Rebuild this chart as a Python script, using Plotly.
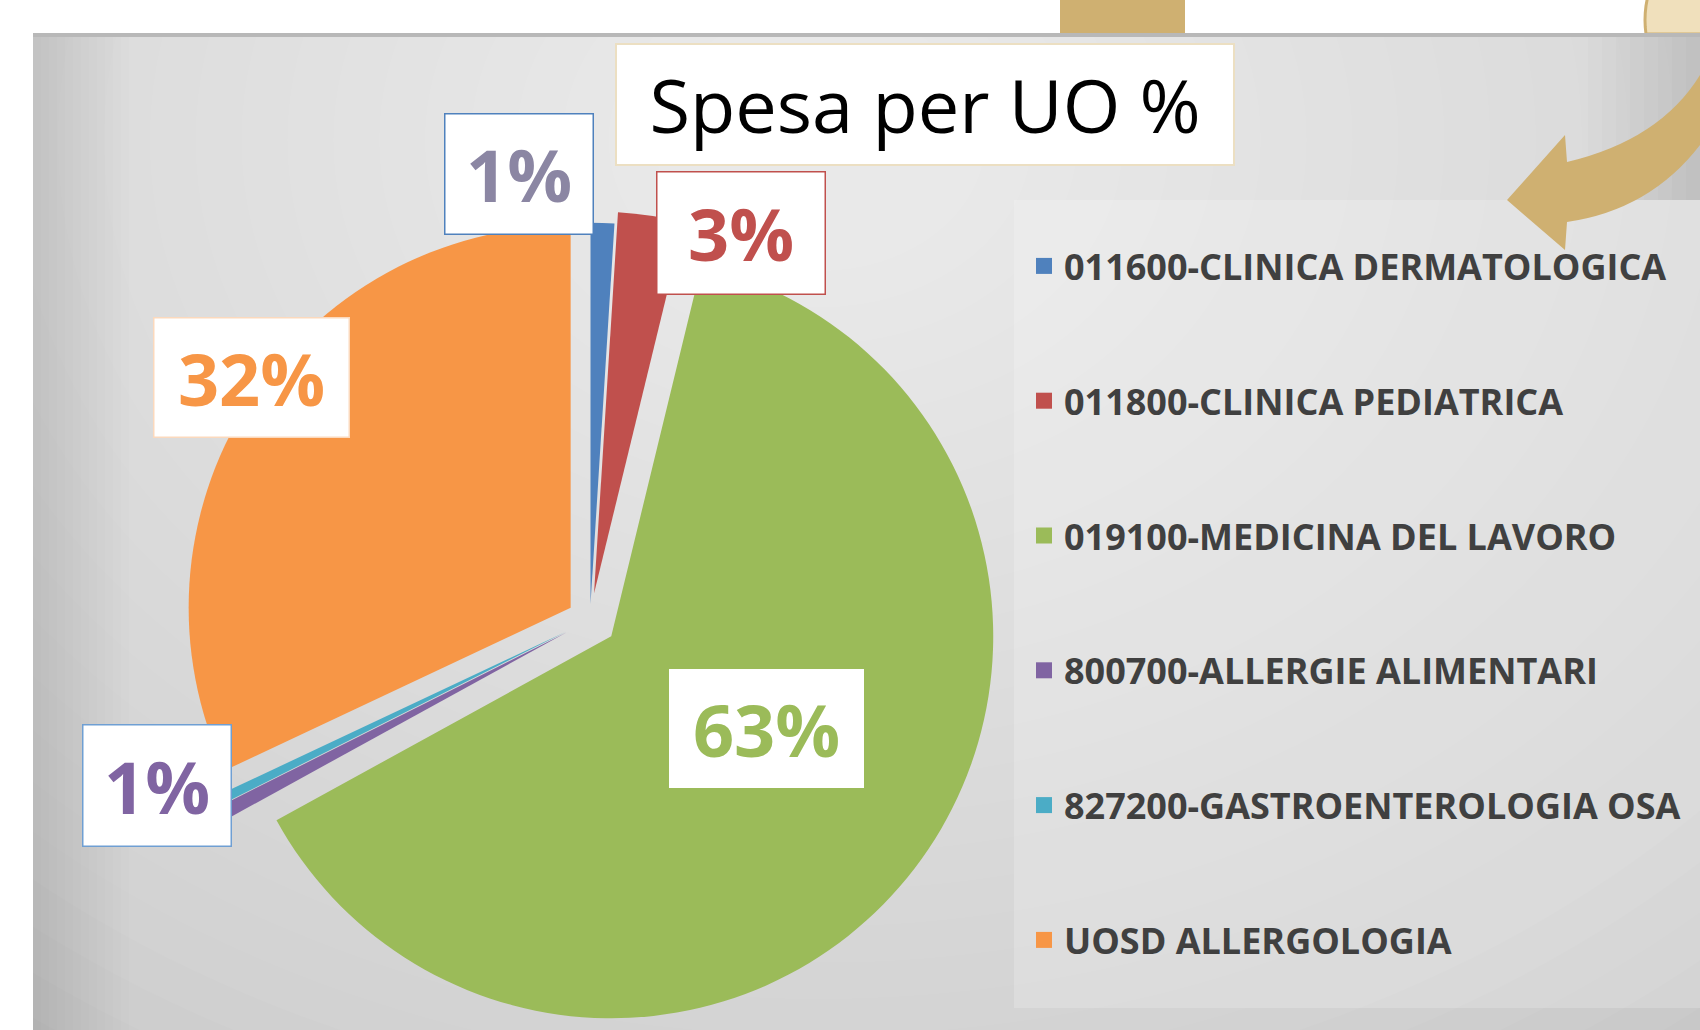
import math
import plotly.graph_objects as go

W, H = 1700, 1030

# ---------------- data ----------------
categories = [
    "011600-CLINICA DERMATOLOGICA",
    "011800-CLINICA PEDIATRICA",
    "019100-MEDICINA DEL LAVORO",
    "800700-ALLERGIE ALIMENTARI",
    "827200-GASTROENTEROLOGIA OSA",
    "UOSD ALLERGOLOGIA",
]
values = [1.0, 2.8, 63.2, 0.6, 0.4, 32.0]
title_text = "Spesa per UO %"

# ---------------- style ----------------
colors = ["#4f81bd", "#c0504d", "#9bbb59", "#8064a2", "#4bacc6", "#f79646"]
pulls = [0.04, 0.07, 0.07, 0.07, 0.07, 0.06]
FONT = "Open Sans"


def px(x):
    return x / W


def py(y):
    return 1 - y / H


fig = go.Figure()

R_PIE, CX, CY = 382, 590, 620
half = R_PIE * (1 + max(pulls))
fig.add_trace(go.Pie(
    labels=categories, values=values, sort=False, direction="clockwise",
    rotation=0, pull=pulls, marker=dict(colors=colors, line=dict(width=0)),
    textinfo="none", hoverinfo="label+percent", showlegend=False,
    domain=dict(x=[px(CX - half), px(CX + half)], y=[max(0, py(CY + half)), py(CY - half)]),
))

# legend entries (one per category)
for i, (name, col) in enumerate(zip(categories, colors)):
    fig.add_trace(go.Scatter(
        x=[None], y=[None], mode="markers", name=name, legendgroup=f"g{i}",
        marker=dict(symbol="square", size=16, color=col), showlegend=True,
        hoverinfo="skip",
    ))

# ---------------- background shapes ----------------
shapes = []
shapes.append(dict(type="rect", xref="paper", yref="paper", x0=0, x1=1, y0=0, y1=1,
                   fillcolor="#c6c6c6", line=dict(width=0), layer="below"))
n = 30
gx, gy = 820, 140
for k in range(n):
    rx = 1450 - k * (1450 - 120) / (n - 1)
    ry = 1150 - k * (1150 - 95) / (n - 1)
    shapes.append(dict(type="circle", xref="paper", yref="paper",
                       x0=px(gx - rx), x1=px(gx + rx), y0=py(gy + ry), y1=py(gy - ry),
                       fillcolor="white", opacity=0.045, line=dict(width=0), layer="below"))
# slightly darker left edge
for k in range(12):
    shapes.append(dict(type="rect", xref="paper", yref="paper",
                       x0=px(33), x1=px(33 + 8 * (k + 1)), y0=0, y1=py(36),
                       fillcolor="black", opacity=0.009, line=dict(width=0), layer="below"))
# slightly darker right edge near the top
for k in range(8):
    shapes.append(dict(type="rect", xref="paper", yref="paper",
                       x0=px(1700 - 14 * (k + 1)), x1=1, y0=py(200), y1=py(36),
                       fillcolor="black", opacity=0.01, line=dict(width=0), layer="below"))
# lighter legend panel
shapes.append(dict(type="rect", xref="paper", yref="paper",
                   x0=px(1014), x1=1, y0=py(1008), y1=py(200),
                   fillcolor="white", opacity=0.2, line=dict(width=0), layer="below"))
# white slide margins
shapes.append(dict(type="rect", xref="paper", yref="paper", x0=0, x1=px(33), y0=0, y1=1,
                   fillcolor="white", line=dict(width=0), layer="below"))
shapes.append(dict(type="rect", xref="paper", yref="paper", x0=0, x1=1, y0=py(34), y1=1,
                   fillcolor="white", line=dict(width=0), layer="below"))
# gold decoration on the slide
shapes.append(dict(type="rect", xref="paper", yref="paper", x0=px(1060), x1=px(1185),
                   y0=py(34), y1=1, fillcolor="#cfb071", line=dict(width=0), layer="below"))


def P(x, y):
    return f"{px(x)},{py(y)}"


# partial cream circle at the top right (cut by the chart picture)
ccx, ccy, cr = 1745, 20, 100
pts = []
for k in range(0, 361, 4):
    a = math.radians(k)
    x, y = ccx + cr * math.cos(a), ccy + cr * math.sin(a)
    pts.append((x, min(y, 34)))
circle_path = "M " + " L ".join(P(x, y) for x, y in pts) + " Z"
shapes.append(dict(type="path", xref="paper", yref="paper", path=circle_path,
                   fillcolor="#f0e0bc", line=dict(color="#cfb071", width=3), layer="below"))

# top edge shadow of the chart picture
shapes.append(dict(type="line", xref="paper", yref="paper", x0=px(33), x1=1,
                   y0=py(35), y1=py(35), line=dict(color="#b8b8b8", width=4), layer="below"))

# curved gold arrow (decoration)
arrow_path = (
    f"M {P(1507, 200)} L {P(1565, 135)} L {P(1567, 162)} "
    f"Q {P(1660, 140)} {P(1700, 75)} L {P(1700, 145)} "
    f"Q {P(1650, 210)} {P(1567, 222)} L {P(1565, 250)} Z"
)
shapes.append(dict(type="path", xref="paper", yref="paper", path=arrow_path,
                   fillcolor="#cfb071", line=dict(width=0), layer="above"))

# ---------------- label boxes ----------------
label_text = [f"{round(v)}%" for v in values]
label_boxes = {
    0: dict(c=(519, 174), w=150, h=122, font="#8b86a3", border="#4f81bd"),
    1: dict(c=(741, 233), w=170, h=124, font="#c0504d", border="#c0504d"),
    2: dict(c=(766, 728), w=195, h=119, font="#9bbb59", border="#ffffff"),
    3: dict(c=(157, 785), w=150, h=123, font="#8064a2", border="#6f9fd3"),
    5: dict(c=(251, 378), w=197, h=121, font="#f79646", border="#fbd9bd"),
}
annotations = []
for i, b in label_boxes.items():
    annotations.append(dict(
        text=f"<b>{label_text[i]}</b>", xref="paper", yref="paper",
        x=px(b["c"][0]), y=py(b["c"][1]), xanchor="center", yanchor="middle",
        showarrow=False, width=b["w"] - 3, height=b["h"] - 3, borderpad=0,
        bgcolor="white", bordercolor=b["border"], borderwidth=1.5,
        font=dict(family=FONT, size=72, color=b["font"]),
    ))

annotations.append(dict(
    text=title_text, xref="paper", yref="paper", x=px(925), y=py(105),
    xanchor="center", yanchor="middle", showarrow=False, width=616, height=119,
    borderpad=0, bgcolor="white", bordercolor="#ecdfc2", borderwidth=2,
    font=dict(family=FONT, size=74, color="black"),
))

fig.update_layout(
    width=W, height=H, margin=dict(l=0, r=0, t=0, b=0),
    paper_bgcolor="white", plot_bgcolor="rgba(0,0,0,0)",
    xaxis=dict(visible=False), yaxis=dict(visible=False),
    shapes=shapes, annotations=annotations,
    legend=dict(x=px(1024), xanchor="left", y=py(236), yanchor="top",
                bgcolor="rgba(0,0,0,0)", tracegroupgap=85, itemwidth=30,
                font=dict(family=FONT, size=36, color="#404040", weight="bold")),
)

fig.write_html(
    "out.html",
    config={"displayModeBar": False},
    post_script="document.body.style.margin='0';document.body.style.overflow='hidden';",
)
